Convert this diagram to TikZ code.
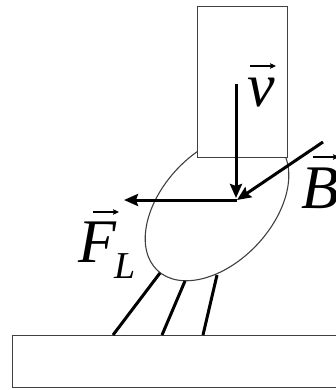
\documentclass[tikz,border=0pt]{standalone}
\usepackage{fontspec}
\setmainfont{Liberation Serif}
\usetikzlibrary{arrows.meta}
\begin{document}
\begin{tikzpicture}[x=1pt,y=-1pt,
  outline/.style={draw=black!75,line width=1.1pt},
  heavy/.style={line width=3pt,line cap=butt},
  force/.style={heavy,-{Stealth[length=14pt,width=12pt,inset=2pt]}},
  accent/.style={line width=1.5pt,-{Stealth[length=6pt,width=5.5pt,inset=1pt]}},
  sym/.style={inner sep=0pt,anchor=base west,font=\fontsize{62}{62}\selectfont\itshape},
  subsym/.style={inner sep=0pt,anchor=base west,font=\fontsize{38}{38}\selectfont\itshape}]
\useasboundingbox (0,0) rectangle (335,390);

% arc column (tilted ellipse), partly hidden by the electrode
\draw[outline] (217,207) ellipse[x radius=87,y radius=55,rotate=46.8];

% electrode and workpiece
\node[outline,fill=white,minimum width=90pt,minimum height=151pt,inner sep=0pt,anchor=north west] (electrode) at (197,6) {};
\node[outline,line width=1.4pt,minimum width=330pt,minimum height=52pt,inner sep=0pt,anchor=north west] (work) at (12,335) {};

% meeting point of the three vectors
\coordinate (O) at (237,200);
\coordinate (vstart) at (236,84);
\coordinate (bstart) at (323,142);
\coordinate (fend) at (124,200);

\draw[force] (vstart) -- (236,198);
\draw[force] (bstart) -- (O);
\draw[force] (O) -- (fend);

% current paths from the arc to the workpiece
\coordinate (a1) at (160,273);
\coordinate (a2) at (185,281);
\coordinate (a3) at (217,275);
\coordinate (b1) at (113,335);
\coordinate (b2) at (162,335);
\coordinate (b3) at (203,335);
\draw[heavy] (a1) -- (b1);
\draw[heavy] (a2) -- (b2);
\draw[heavy] (a3) -- (b3);

% labels
\node[sym] (lv) at (247,107) {v};
\draw[accent] (250,66) -- (276,66);
\node[sym] (lb) at (301,208) {B};
\draw[accent] (313,157) -- (339,157);
\node[sym] (lf) at (78,262) {F};
\node[subsym] (ll) at (114,278) {L};
\draw[accent] (93,212) -- (119,212);
\end{tikzpicture}
\end{document}
